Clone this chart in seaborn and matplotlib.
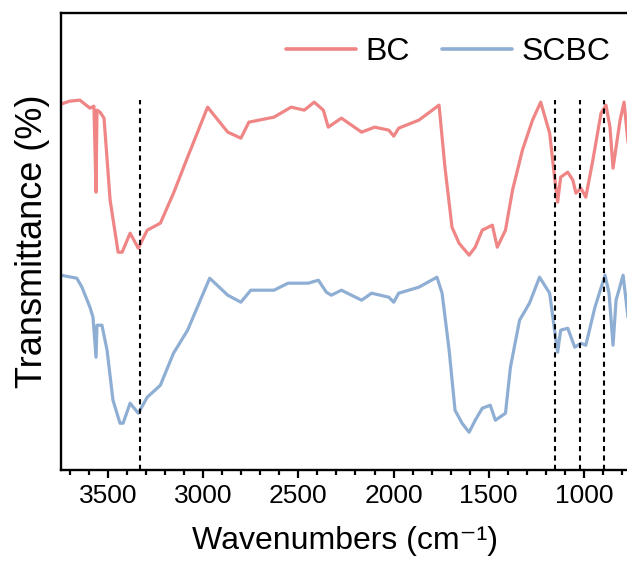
import numpy as np
import pandas as pd
import matplotlib
matplotlib.use('Agg')
import matplotlib.pyplot as plt
from matplotlib.ticker import MultipleLocator
import seaborn as sns

# 读取自图片的光谱点 (波数 cm-1, 透过率 任意单位)
bc_wavenumber = [3748, 3701, 3648, 3595, 3574, 3563, 3558, 3542, 3521, 3489,
                 3447, 3426, 3384, 3341, 3294, 3225, 3156, 3082, 2977, 2871,
                 2802, 2760, 2628, 2538, 2469, 2417, 2369, 2343, 2274, 2168,
                 2099, 2025, 1999, 1973, 1867, 1761, 1730, 1693, 1656, 1603,
                 1571, 1534, 1481, 1455, 1412, 1375, 1323, 1270, 1227, 1180,
                 1154, 1138, 1122, 1085, 1058, 1042, 1016, 990, 953, 910,
                 884, 863, 847, 810, 789, 768]
bc_transmittance = [366, 369, 370, 362, 364, 278, 360, 358, 352, 270,
                    218, 218, 237, 222, 240, 247, 277, 313, 363, 338,
                    332, 348, 353, 363, 360, 368, 360, 343, 352, 338,
                    343, 340, 334, 342, 350, 365, 303, 243, 227, 215,
                    223, 240, 245, 223, 240, 280, 320, 350, 368, 337,
                    293, 268, 293, 298, 290, 277, 282, 273, 310, 357,
                    365, 343, 302, 350, 368, 327]

scbc_wavenumber = [3748, 3664, 3637, 3595, 3579, 3563, 3558, 3532, 3505, 3474,
                   3437, 3421, 3384, 3341, 3294, 3225, 3156, 3082, 2966, 2871,
                   2802, 2750, 2628, 2554, 2448, 2395, 2353, 2327, 2274, 2168,
                   2115, 2025, 1999, 1973, 1867, 1772, 1745, 1708, 1677, 1640,
                   1603, 1571, 1534, 1492, 1465, 1412, 1386, 1338, 1286, 1233,
                   1180, 1154, 1138, 1122, 1085, 1048, 1016, 990, 942, 889,
                   868, 847, 831, 794, 768]
scbc_transmittance = [195, 192, 183, 163, 153, 113, 145, 145, 120, 70,
                      47, 47, 67, 57, 73, 85, 117, 140, 192, 175,
                      168, 180, 180, 187, 187, 190, 178, 175, 180, 170,
                      177, 173, 168, 177, 183, 193, 177, 120, 60, 47,
                      38, 50, 62, 65, 50, 57, 103, 150, 167, 193,
                      177, 140, 118, 140, 142, 123, 127, 125, 163, 195,
                      177, 125, 170, 195, 152]

# 特征峰位置 (虚线)
peak_positions = [3330, 1153, 1020, 894]

samples = ['BC', 'SCBC']
colors = ['#EF8585', '#8FAED3']

df = pd.concat([
    pd.DataFrame({'wavenumber': bc_wavenumber, 'transmittance': bc_transmittance, 'sample': 'BC'}),
    pd.DataFrame({'wavenumber': scbc_wavenumber, 'transmittance': scbc_transmittance, 'sample': 'SCBC'}),
])

sns.set_style('ticks')
plt.rcParams['font.family'] = ['Liberation Sans', 'DejaVu Sans']
plt.rcParams['text.color'] = 'black'
plt.rcParams['axes.labelcolor'] = 'black'
plt.rcParams['xtick.color'] = 'black'

fig = plt.figure(figsize=(6.27, 5.70), dpi=100)
ax = fig.add_axes([0.097, 0.175, 0.905, 0.802])

sns.lineplot(data=df, x='wavenumber', y='transmittance', hue='sample',
             hue_order=samples, palette=colors, sort=False,
             linewidth=2.3, ax=ax)

# 虚线标记
ax.vlines(peak_positions, 0, 370, colors='black', linestyles=(0, (2.5, 2)), linewidth=1.5)

ax.set_xlim(3748, 767)
ax.set_ylim(0, 457)
ax.xaxis.set_major_locator(MultipleLocator(500))
ax.xaxis.set_minor_locator(MultipleLocator(100))
ax.set_yticks([])
ax.tick_params(axis='x', which='major', direction='out', length=6, width=1.6, labelsize=19, pad=4)
ax.tick_params(axis='x', which='minor', direction='out', length=3.5, width=1.6)

for side in ['left', 'bottom', 'top']:
    ax.spines[side].set_linewidth(1.7)
    ax.spines[side].set_color('black')
ax.spines['right'].set_visible(False)

ax.set_xlabel('Wavenumbers (cm⁻¹)', fontsize=23, labelpad=13)
ax.set_ylabel('Transmittance (%)', fontsize=26, labelpad=8)

ax.legend(loc='upper right', bbox_to_anchor=(1.02, 1.01), ncol=2, frameon=False,
          fontsize=23, handlelength=2.2, handletextpad=0.3, columnspacing=1.0)
for line in ax.get_legend().get_lines():
    line.set_linewidth(2.6)

fig.savefig('out.png', dpi=100)
plt.close()
